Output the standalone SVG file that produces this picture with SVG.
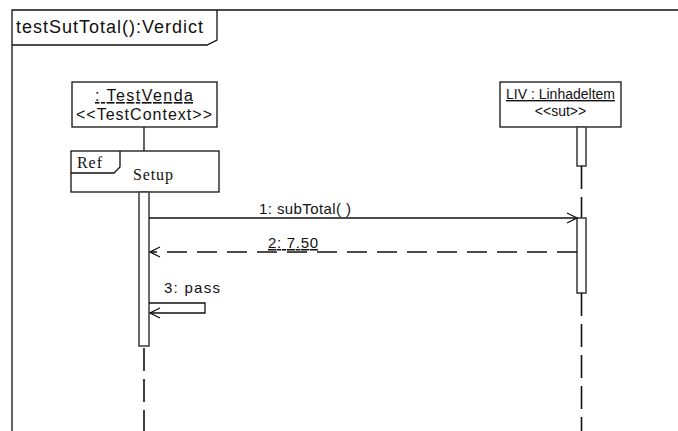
<svg xmlns="http://www.w3.org/2000/svg" width="678" height="431" viewBox="0 0 678 431">
<defs>
<style>
.ln{stroke:#111;stroke-width:1.3;fill:none}
.box{stroke:#111;stroke-width:1.3;fill:#fff}
.act{stroke:#444;stroke-width:1.6;fill:#fff}
.life{stroke:#111;stroke-width:1.6;stroke-dasharray:23 8;fill:none}
.t{font-family:"Liberation Sans",Arial,sans-serif;fill:#111}
.s{font-family:"Liberation Serif","Times New Roman",serif;fill:#111}
</style>
<marker id="open" viewBox="0 0 12 12" refX="11" refY="6" markerWidth="12" markerHeight="12" markerUnits="userSpaceOnUse" orient="auto">
<path d="M1,1 L11,6 L1,11" fill="none" stroke="#111" stroke-width="1.3"/>
</marker>
</defs>
<rect width="678" height="431" fill="#fff"/>
<g id="frame">
<path class="ln" d="M12,431 L12,10 L678,10"/>
<path class="ln" d="M12,45 L207,45 L217,40 L217,10"/>
<text class="t" x="16" y="33" font-size="18" textLength="187">testSutTotal():Verdict</text>
</g>
<g id="testvenda">
<rect class="box" x="72" y="82" width="145" height="45"/>
<text class="t" x="95" y="101" font-size="16" textLength="98" text-decoration="underline">: TestVenda</text>
<text class="t" x="76" y="120" font-size="16" textLength="136">&lt;&lt;TestContext&gt;&gt;</text>
</g>
<g id="liv">
<rect class="box" x="500" y="82" width="121" height="45"/>
<text class="t" x="560.5" y="99" font-size="14" text-anchor="middle" text-decoration="underline">LIV : Linhadeltem</text>
<text class="t" x="560.5" y="116" font-size="14" text-anchor="middle">&lt;&lt;sut&gt;&gt;</text>
</g>
<g id="ref-setup">
<rect class="box" x="71" y="151" width="148" height="41"/>
<path class="ln" d="M71,173 L114,173 L120,167 L120,151"/>
<text class="s" x="77" y="168" font-size="16" textLength="25">Ref</text>
<text class="s" x="133" y="180" font-size="16" textLength="40">Setup</text>
</g>
<g id="lifelines">
<line class="ln" x1="144" y1="127" x2="144" y2="151"/>
<rect class="act" x="139" y="192" width="10" height="154"/>
<line class="life" x1="144" y1="348" x2="144" y2="431"/>
<rect class="act" x="577" y="127" width="9" height="39"/>
<line class="life" x1="581.5" y1="166" x2="581.5" y2="218" stroke-dasharray="16 8"/>
<rect class="act" x="577" y="218" width="9" height="75"/>
<line class="life" x1="581.5" y1="293" x2="581.5" y2="431" stroke-dasharray="15 9 23 8"/>
</g>
<g id="connectors">
<line class="ln" x1="149" y1="218" x2="577" y2="218" marker-end="url(#open)"/>
<text class="t" x="259" y="214" font-size="15" textLength="92">1: subTotal( )</text>
<line class="ln" x1="577" y1="252" x2="150" y2="252" stroke-dasharray="20 10" marker-end="url(#open)"/>
<text class="t" x="268" y="248" font-size="15" textLength="50" text-decoration="underline">2: 7.50</text>
<path class="ln" d="M149,303 L205,303 L205,313 L150,313" marker-end="url(#open)"/>
<text class="t" x="164" y="293" font-size="15" textLength="56">3: pass</text>
</g>
</svg>
